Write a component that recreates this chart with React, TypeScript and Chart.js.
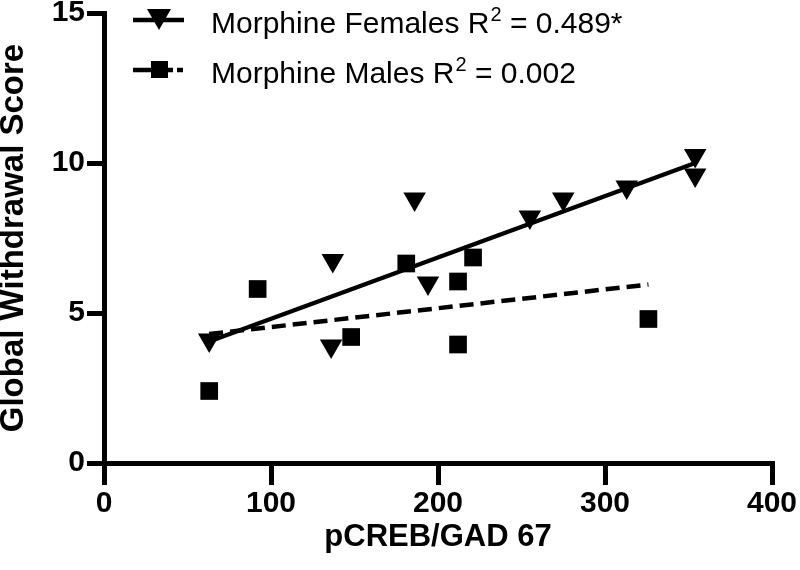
import React, { useEffect, useRef } from 'react';
import { Chart, registerables } from 'chart.js';

Chart.register(...registerables);

// ---- data ----
const femalesX = [63, 137, 136, 186, 194, 255, 275, 313, 354, 354];
const femalesY = [4.1, 6.75, 3.9, 8.8, 6.0, 8.2, 8.8, 9.2, 10.25, 9.6];
const malesX = [63, 92, 148, 181, 212, 212, 221, 326];
const malesY = [2.4, 5.8, 4.2, 6.65, 6.05, 3.95, 6.85, 4.8];
const femaleFitX = [63, 354];
const femaleFitY = [4.05, 10.0];
const maleFitX = [63, 326];
const maleFitY = [4.3, 5.95];
const xTickValues = [0, 100, 200, 300, 400];
const yTickValues = [0, 5, 10, 15];
const legendMain = ['Morphine Females R', 'Morphine Males R'];
const legendSup = ['2', '2'];
const legendTail = [' = 0.489*', ' = 0.002'];
const xTitle = 'pCREB/GAD 67';
const yTitle = 'Global Withdrawal Score';

const FONT = "'Liberation Sans', Arial, Helvetica, sans-serif";

const toPoints = (xs: number[], ys: number[]) => xs.map((x, i) => ({ x, y: ys[i] }));

const legendPlugin = {
  id: 'customLegend',
  afterDraw(chart: any) {
    const ctx = chart.ctx as CanvasRenderingContext2D;
    ctx.save();
    ctx.fillStyle = '#000';
    ctx.strokeStyle = '#000';
    ctx.lineWidth = 4.5;
    ctx.lineCap = 'butt';
    // row 1 symbol: solid line + down triangle
    ctx.beginPath();
    ctx.moveTo(133, 20);
    ctx.lineTo(184, 20);
    ctx.stroke();
    ctx.beginPath();
    ctx.moveTo(147, 9);
    ctx.lineTo(171, 9);
    ctx.lineTo(159, 30);
    ctx.closePath();
    ctx.fill();
    // row 2 symbol: dashed line + square
    ctx.beginPath();
    ctx.moveTo(133, 70);
    ctx.lineTo(151, 70);
    ctx.moveTo(167, 70);
    ctx.lineTo(173, 70);
    ctx.moveTo(177, 70);
    ctx.lineTo(183, 70);
    ctx.stroke();
    ctx.fillRect(151, 61, 17, 17);
    // texts
    const baselines = [33, 83];
    ctx.textBaseline = 'alphabetic';
    ctx.textAlign = 'left';
    for (let i = 0; i < legendMain.length; i++) {
      let x = 211;
      const y = baselines[i];
      ctx.font = `30px ${FONT}`;
      ctx.fillText(legendMain[i], x, y);
      x += ctx.measureText(legendMain[i]).width;
      ctx.font = `20px ${FONT}`;
      ctx.fillText(legendSup[i], x + 1, y - 12);
      x += ctx.measureText(legendSup[i]).width + 1;
      ctx.font = `30px ${FONT}`;
      ctx.fillText(legendTail[i], x, y);
    }
    ctx.restore();
  },
};

export default function App() {
  const canvasRef = useRef<HTMLCanvasElement | null>(null);

  useEffect(() => {
    document.body.style.margin = '0';
    const canvas = canvasRef.current;
    if (!canvas) return;
    const chart = new Chart(canvas, {
      type: 'scatter',
      data: {
        datasets: [
          {
            label: 'Female fit',
            data: toPoints(femaleFitX, femaleFitY),
            showLine: true,
            borderColor: '#000',
            borderWidth: 4.5,
            pointRadius: 0,
            pointHoverRadius: 0,
            fill: false,
          },
          {
            label: 'Male fit',
            data: toPoints(maleFitX, maleFitY),
            showLine: true,
            borderColor: '#000',
            borderWidth: 4.5,
            borderDash: [14, 7],
            pointRadius: 0,
            pointHoverRadius: 0,
            fill: false,
          },
          {
            label: 'Morphine Females',
            data: toPoints(femalesX, femalesY),
            pointStyle: 'triangle',
            rotation: 180,
            pointRadius: 13,
            backgroundColor: '#000',
            borderColor: '#000',
            borderWidth: 0,
          },
          {
            label: 'Morphine Males',
            data: toPoints(malesX, malesY),
            pointStyle: 'rect',
            pointRadius: 12.5,
            backgroundColor: '#000',
            borderColor: '#000',
            borderWidth: 0,
          },
        ],
      } as any,
      options: {
        animation: false,
        responsive: false,
        devicePixelRatio: 1,
        layout: { padding: { top: 12, right: 28, left: 0, bottom: 0 } },
        plugins: {
          legend: { display: false },
          tooltip: { enabled: false },
        },
        scales: {
          x: {
            type: 'linear',
            min: 0,
            max: 400,
            afterBuildTicks: (s: any) => {
              s.ticks = xTickValues.map((v) => ({ value: v }));
            },
            afterFit: (s: any) => {
              s.height = 107;
              s.paddingLeft = 0;
              s.paddingRight = 0;
            },
            ticks: {
              color: '#000',
              font: { family: FONT, size: 30, weight: 'bold', lineHeight: 1 },
              padding: 4,
              maxRotation: 0,
              autoSkip: false,
            },
            grid: {
              drawOnChartArea: false,
              drawTicks: true,
              tickLength: 22,
              color: '#000',
              lineWidth: 5,
            },
            border: { display: true, color: '#000', width: 5 },
            title: {
              display: true,
              text: xTitle,
              color: '#000',
              font: { family: FONT, size: 31, weight: 'bold', lineHeight: 1 },
              padding: { top: 0, bottom: 17 },
            },
          },
          y: {
            type: 'linear',
            min: 0,
            max: 15,
            afterBuildTicks: (s: any) => {
              s.ticks = yTickValues.map((v) => ({ value: v }));
            },
            afterFit: (s: any) => {
              s.width = 104;
              s.paddingTop = 0;
              s.paddingBottom = 0;
            },
            ticks: {
              color: '#000',
              font: { family: FONT, size: 30, weight: 'bold', lineHeight: 1 },
              padding: 2,
              autoSkip: false,
            },
            grid: {
              drawOnChartArea: false,
              drawTicks: true,
              tickLength: 17,
              color: '#000',
              lineWidth: 5,
            },
            border: { display: true, color: '#000', width: 5 },
            title: {
              display: true,
              text: yTitle,
              color: '#000',
              font: { family: FONT, size: 33, weight: 'bold', lineHeight: 0.85 },
              padding: { top: 0, bottom: 0 },
            },
          },
        },
      } as any,
      plugins: [legendPlugin],
    });
    return () => chart.destroy();
  }, []);

  return (
    <div style={{ position: 'absolute', left: 0, top: 0, width: 800, height: 570, background: '#fff' }}>
      <canvas ref={canvasRef} width={800} height={570} />
    </div>
  );
}
